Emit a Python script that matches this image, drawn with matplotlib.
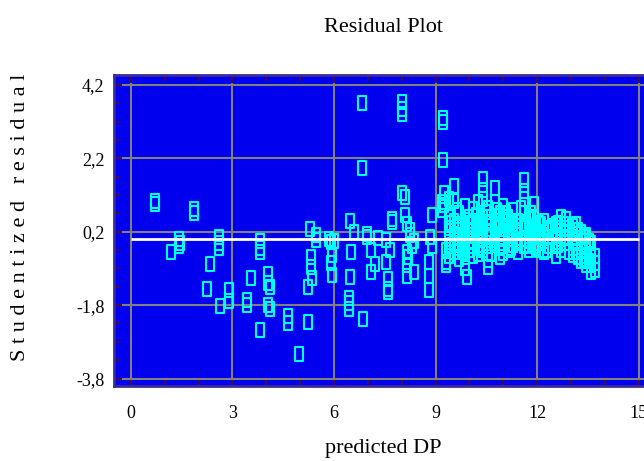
import numpy as np
import matplotlib
matplotlib.use('Agg')
from matplotlib import pyplot as plt
from matplotlib.path import Path
from matplotlib.ticker import MultipleLocator

# residuals, left part (predicted DP < 9)
left_x = [0.71, 0.71, 1.86, 1.86, 1.18, 1.42, 1.42, 1.45,
          2.6, 2.6, 2.6, 2.33, 2.25, 2.63, 2.9, 2.9,
          3.8, 3.8, 3.8, 3.55, 3.43, 3.43, 3.8,
          4.05, 4.05, 4.1, 4.05, 4.1, 4.64, 4.64, 5.23, 4.96,
          5.23, 5.32, 5.32, 5.35, 5.3, 5.47, 5.47, 5.9, 5.85, 6.0,
          5.95, 5.9, 5.95, 6.47, 6.45, 6.45, 6.45, 6.85,
          6.5, 6.6, 6.47, 6.97, 6.97, 7.2, 7.1, 7.1, 7.3,
          7.6, 7.6, 7.6, 7.55, 7.55, 7.65, 7.7, 7.7]
left_y = [1.05, 0.95, 0.82, 0.72, -0.35, 0.0, -0.2, -0.1,
          0.05, -0.1, -0.25, -0.68, -1.36, -1.82, -1.4, -1.7,
          -0.05, -0.25, -0.35, -1.06, -1.65, -1.8, -2.48,
          -0.95, -1.2, -1.3, -1.8, -1.9, -2.1, -2.3, -2.26, -3.13,
          -1.31, -0.5, -0.75, -1.05, 0.28, -0.03, 0.1, -0.08, 0.0, -0.05,
          -0.44, -0.65, -0.99, -1.04, -1.6, -1.75, -1.9, -2.18,
          -0.35, 0.2, 0.49, 0.05, 0.15, -0.68, -0.3, -0.9, 0.03,
          -1.35, -1.1, -1.45, -0.03, -0.63, -0.3, 0.47, 0.55]

# outliers and the 8-9.3 band
mid_x = [6.82, 6.82, 8.0, 8.0, 8.0, 9.22, 9.22, 9.22,
         8.0, 8.1, 8.1, 8.15, 8.25, 8.3, 8.2, 8.35, 8.15, 8.15, 8.15, 8.25, 8.35,
         8.8, 8.8, 8.8, 8.9, 8.85, 8.9,
         9.25, 9.25, 9.3, 9.3, 9.2, 9.2, 9.3]
mid_y = [3.72, 1.93, 3.75, 3.55, 3.4, 3.3, 3.18, 2.15,
         1.25, 1.15, 0.65, 0.4, 0.1, -0.2, -0.5, -0.9, -0.35, -0.7, -1.0, 0.25, -0.05,
         -0.63, -1.0, -1.4, 0.65, 0.05, -0.2,
         1.25, 0.93, -0.3, -0.7, 1.0, 0.8, -0.63]

# dense cluster, one column of residuals per predicted value
cluster_cols = [9.4, 9.55, 9.7, 9.87, 9.93, 10.0, 10.1, 10.25, 10.4, 10.55,
                10.65, 10.75, 10.9, 11.0, 11.15, 11.3, 11.45, 11.6, 11.75, 11.9,
                12.05, 12.2, 12.35, 12.55, 12.7, 12.85, 13.05, 13.15, 13.3, 13.45,
                13.6, 13.7]
cluster_res = [[1.1, 0.6, 0.3, 0.0, -0.2, -0.45],
               [1.45, 1.05, 0.5, 0.15, -0.1, -0.35],
               [0.7, 0.35, 0.05, -0.25, -0.55],
               [0.9, 0.45, 0.2, -0.1, -0.5, -0.8],
               [-1.04],
               [0.6, 0.25, -0.05, -0.3],
               [0.82, 0.5, 0.1, -0.2, -0.45],
               [1.0, 0.4, 0.15, -0.15, -0.4],
               [1.65, 1.35, 1.1, 0.6, 0.3, 0.0, -0.3],
               [0.85, 0.45, 0.1, -0.2, -0.58, -0.75],
               [0.6, 0.2, -0.1, -0.4],
               [1.4, 1.0, 0.5, 0.15, -0.15],
               [0.7, 0.35, 0.05, -0.25, -0.5],
               [0.9, 0.5, 0.2, -0.1, -0.38],
               [0.6, 0.3, 0.0, -0.3],
               [0.8, 0.4, 0.1, -0.15],
               [0.5, 0.2, -0.1, -0.35],
               [1.6, 1.3, 1.1, 0.7, 0.3, 0.0, -0.19],
               [0.55, 0.25, -0.05, -0.3],
               [0.95, 0.6, 0.3, 0.05, -0.2],
               [0.45, 0.15, -0.1, -0.3],
               [0.5, 0.2, -0.05, -0.36],
               [0.3, 0.05, -0.2],
               [0.4, 0.1, -0.2, -0.46],
               [0.6, 0.3, 0.0, -0.3],
               [0.55, 0.2, -0.1],
               [0.35, 0.05, -0.25, -0.44],
               [0.41, 0.15, -0.1, -0.35],
               [0.2, -0.05, -0.3, -0.6],
               [0.1, -0.2, -0.45, -0.7],
               [-0.1, -0.4, -0.7, -0.9],
               [-0.45, -0.65, -0.85]]

# extra points between the columns, where the cluster is thickest
fill_cols = [9.47, 9.62, 9.8, 10.05, 10.18, 10.32, 10.48, 10.6, 10.82, 10.95,
             11.08, 11.22, 11.38, 11.52, 11.68, 11.82, 11.98, 12.12, 12.28, 12.45,
             12.62, 12.78, 12.95, 13.22, 13.38, 13.52]
fill_res = [[0.45, -0.15], [0.8, 0.25], [0.1, -0.35],
            [0.4, -0.2], [0.65, 0.3], [0.2, -0.25],
            [0.75, -0.1], [0.45, 0.05], [0.8, 0.3],
            [0.15, -0.2], [0.7, 0.35], [0.5, -0.25],
            [0.25, -0.05], [0.85, 0.35], [0.4, -0.15],
            [0.7, 0.2], [0.35, -0.25], [0.4, 0.1],
            [0.25, -0.3], [0.35, 0.05], [0.45, -0.15],
            [0.4, 0.05], [0.3, -0.35], [0.25, -0.5],
            [0.05, -0.55], [-0.05, -0.6]]

y_ticks = [-3.8, -1.8, 0.2, 2.2, 4.2]
y_tick_labels = ['-3,8', '-1,8', '0,2', '2,2', '4,2']
x_ticks = [0, 3, 6, 9, 12, 15]

pred = list(left_x) + list(mid_x)
resid = list(left_y) + list(mid_y)
for cols, res in ((cluster_cols, cluster_res), (fill_cols, fill_res)):
    for cx, col in zip(cols, res):
        for r in col:
            pred.append(cx)
            resid.append(r)

plt.rcParams['font.family'] = ['Liberation Serif', 'DejaVu Serif']

fig = plt.figure(figsize=(6.44, 4.61), dpi=100)
ax = fig.add_axes([0.177, 0.163, 0.841, 0.674])
ax.set_facecolor('#0000ee')

# tall open rectangle marker
rect = Path([(-0.32, -0.5), (0.32, -0.5), (0.32, 0.5), (-0.32, 0.5), (-0.32, -0.5)],
            [Path.MOVETO, Path.LINETO, Path.LINETO, Path.LINETO, Path.CLOSEPOLY])
ax.plot(pred, resid, linestyle='none', marker=rect, markersize=10,
        markerfacecolor='none', markeredgecolor='#00ffff', markeredgewidth=1.5, zorder=3)
ax.hlines(0.0, 0, 15, colors='white', linewidth=2, zorder=4)

ax.set_xlim(-0.5, 15.5)
ax.set_ylim(-4.0, 4.47)
ax.set_xticks(x_ticks)
ax.xaxis.set_minor_locator(MultipleLocator(1))
ax.set_yticks(y_ticks)
ax.set_yticklabels(y_tick_labels)
ax.set_yticks(np.arange(-3.8, 4.4, 0.5), minor=True)
ax.grid(True, which='major', color='#808080', linewidth=1.5, zorder=1)
ax.set_axisbelow(True)

ax.tick_params(which='both', direction='in', top=True, right=False,
               color='#4a0a3a', width=1.5, labelsize=13)
ax.tick_params(which='major', length=6)
ax.tick_params(which='minor', length=4.5)
ax.tick_params(axis='x', pad=14)
ax.tick_params(axis='y', pad=7)
for s in ax.spines.values():
    s.set_color('#3a2a9a')
    s.set_linewidth(2)

fig.text(384 / 644, 1 - 27 / 461, 'Residual Plot', ha='center', va='center', fontsize=16)
fig.text(383 / 644, 1 - 448 / 461, 'predicted DP', ha='center', va='center', fontsize=16)
fig.text(21 / 644, 1 - 217 / 461, 'S t u d e n t i z e d   r e s i d u a l',
         rotation=90, ha='center', va='center', fontsize=16)

fig.savefig('out.png', dpi=100)
